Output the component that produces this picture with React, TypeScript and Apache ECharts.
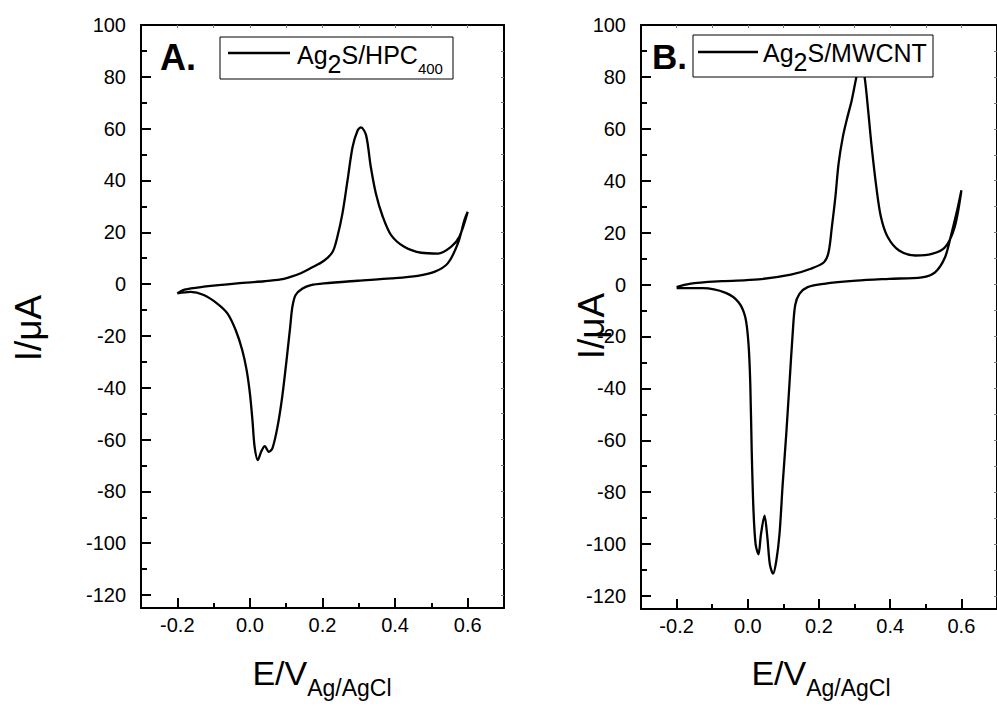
import React, { useEffect, useRef } from "react";
import * as echarts from "echarts";

const FONT = '"Liberation Sans", Arial, Helvetica, sans-serif';

// Axis ticks / labels
const xTickLabels = [-0.2, 0.0, 0.2, 0.4, 0.6];
const xMinorTicks = [-0.1, 0.1, 0.3, 0.5];
const xTopTicks = [-0.2, -0.1, 0.0, 0.1, 0.2, 0.3, 0.4, 0.5, 0.6];
const yTickLabels = [-120, -100, -80, -60, -40, -20, 0, 20, 40, 60, 80, 100];
const yMinorTicks = [-110, -90, -70, -50, -30, -10, 10, 30, 50, 70, 90];
const yRightTicks = [-120, -110, -100, -90, -80, -70, -60, -50, -40, -30, -20, -10, 0, 10, 20, 30, 40, 50, 60, 70, 80, 90];

// Panel A: Ag2S/HPC400 (E in V, I in µA)
const hpcForward = [
  [-0.2, -3.6], [-0.18, -2.1], [-0.127, -1.0], [-0.035, 0.3], [0.04, 1.1], [0.085, 1.8],
  [0.112, 2.8], [0.14, 4.2], [0.168, 6.2], [0.204, 9.0], [0.228, 12.5], [0.241, 18.3],
  [0.255, 27.3], [0.269, 40.1], [0.283, 53.0], [0.297, 59.4], [0.306, 60.5], [0.32, 57.5],
  [0.333, 45.3], [0.347, 35.0], [0.366, 26.0], [0.389, 18.9], [0.425, 14.4], [0.472, 12.1],
  [0.518, 11.8], [0.554, 14.4], [0.577, 18.3], [0.6, 27.9],
];
const hpcReverse = [
  [0.591, 24.7], [0.573, 15.7], [0.545, 8.0], [0.508, 4.7], [0.462, 3.2], [0.389, 2.2],
  [0.297, 1.3], [0.204, 0.3], [0.168, -0.4], [0.145, -1.7], [0.126, -4.2], [0.117, -8.8],
  [0.111, -16.5], [0.101, -29.3], [0.089, -43.5], [0.076, -55.1], [0.062, -63.4],
  [0.052, -64.7], [0.041, -62.5], [0.031, -64.7], [0.022, -67.9], [0.013, -62.8],
  [0.007, -52.5], [0.0, -42.2], [-0.009, -33.2], [-0.021, -25.5], [-0.039, -17.8],
  [-0.062, -11.3], [-0.09, -7.5], [-0.127, -4.2], [-0.164, -3.0], [-0.2, -3.6],
];

// Panel B: Ag2S/MWCNT
const mwcntForward = [
  [-0.2, -1.0], [-0.164, 0.3], [-0.072, 1.3], [0.03, 2.0], [0.121, 3.8], [0.177, 6.1],
  [0.214, 8.6], [0.227, 12.5], [0.236, 22], [0.246, 33.7], [0.255, 46.6], [0.267, 56.9],
  [0.28, 64.6], [0.292, 71.0], [0.305, 80.0], [0.316, 87], [0.328, 80], [0.338, 67.2],
  [0.347, 54.3], [0.361, 37.6], [0.374, 26.0], [0.393, 18.3], [0.425, 13.1], [0.471, 11.2],
  [0.517, 11.8], [0.554, 14.4], [0.581, 22.1], [0.6, 36.3],
];
const mwcntReverse = [
  [0.59, 29.8], [0.572, 19.6], [0.554, 10.5], [0.526, 4.7], [0.489, 2.8], [0.397, 2.2],
  [0.305, 1.5], [0.214, 0.3], [0.168, -1.0], [0.145, -3.6], [0.133, -8], [0.126, -19.0],
  [0.117, -38.3], [0.108, -57.6], [0.098, -76.9], [0.089, -96.2], [0.08, -106.5],
  [0.071, -111.4], [0.062, -107.8], [0.055, -97.5], [0.047, -89.0], [0.037, -96.2],
  [0.03, -103.9], [0.022, -100.1], [0.016, -87.2], [0.011, -64.1], [0.007, -38.3],
  [0.002, -22.9], [-0.007, -12.6], [-0.026, -6.8], [-0.062, -3.2], [-0.127, -1.4], [-0.2, -1.4],
];

const black = "#000";

function xAxesFor(gridIndex: number) {
  const base = {
    type: "value" as const,
    gridIndex,
    min: -0.3,
    max: 0.7,
    splitLine: { show: false },
  };
  return [
    {
      ...base,
      position: "bottom",
      axisLine: { show: true, onZero: false, lineStyle: { color: black, width: 2 } },
      axisTick: { show: true, inside: true, length: 10, lineStyle: { color: black, width: 2 }, customValues: xTickLabels },
      axisLabel: {
        show: true, customValues: xTickLabels, margin: 7, color: black, fontSize: 20, fontFamily: FONT,
        formatter: (v: number) => v.toFixed(1),
      },
    },
    {
      ...base,
      position: "bottom",
      axisLine: { show: false, onZero: false },
      axisTick: { show: true, inside: true, length: 5, lineStyle: { color: black, width: 2 }, customValues: xMinorTicks },
      axisLabel: { show: false },
    },
    {
      ...base,
      position: "top",
      axisLine: { show: true, onZero: false, lineStyle: { color: black, width: 2 } },
      axisTick: { show: true, inside: true, length: 3, lineStyle: { color: "#777", width: 1 }, customValues: xTopTicks },
      axisLabel: { show: false },
    },
  ];
}

function yAxesFor(gridIndex: number) {
  const base = {
    type: "value" as const,
    gridIndex,
    min: -125,
    max: 100,
    splitLine: { show: false },
  };
  return [
    {
      ...base,
      position: "left",
      axisLine: { show: true, onZero: false, lineStyle: { color: black, width: 2 } },
      axisTick: { show: true, inside: true, length: 10, lineStyle: { color: black, width: 2 }, customValues: yTickLabels },
      axisLabel: { show: true, customValues: yTickLabels, margin: 15, color: black, fontSize: 20, fontFamily: FONT },
    },
    {
      ...base,
      position: "left",
      axisLine: { show: false, onZero: false },
      axisTick: { show: true, inside: true, length: 6, lineStyle: { color: black, width: 2 }, customValues: yMinorTicks },
      axisLabel: { show: false },
    },
    {
      ...base,
      position: "right",
      axisLine: { show: true, onZero: false, lineStyle: { color: black, width: 2 } },
      axisTick: { show: true, inside: true, length: 3, lineStyle: { color: "#777", width: 1 }, customValues: yRightTicks },
      axisLabel: { show: false },
    },
  ];
}

function txt(x: number, y: number, text: string, extra: any, z = 60) {
  return {
    type: "text",
    x,
    y,
    z,
    style: {
      text,
      fill: black,
      fontFamily: FONT,
      ...extra,
    },
  };
}

function legendGraphics(box: { x: number; y: number; w: number; h: number }, lineX1: number, lineX2: number, lineY: number, textX: number, textY: number, formatted: string) {
  return [
    { type: "rect", z: 50, shape: { x: box.x, y: box.y, width: box.w, height: box.h }, style: { fill: "#fff", stroke: black, lineWidth: 1 } },
    { type: "line", z: 55, shape: { x1: lineX1, y1: lineY, x2: lineX2, y2: lineY }, style: { stroke: black, lineWidth: 2.3 } },
    txt(textX, textY, formatted, {
      align: "left", textAlign: "left", verticalAlign: "top", textVerticalAlign: "top",
      rich: {
        a: { fontSize: 25, fontFamily: FONT, fill: black, verticalAlign: "top" },
        s: { fontSize: 25, fontFamily: FONT, fill: black, verticalAlign: "top", padding: [9, 0, 0, 0] },
        t: { fontSize: 15, fontFamily: FONT, fill: black, verticalAlign: "top", padding: [18, 0, 0, 0] },
      },
    }),
  ];
}

function xTitle(cx: number) {
  return txt(cx, 656, "{e|E/V}{s|Ag/AgCl}", {
    align: "center", textAlign: "center", verticalAlign: "top", textVerticalAlign: "top",
    rich: {
      e: { fontSize: 34, fontFamily: FONT, fill: black, verticalAlign: "top" },
      s: { fontSize: 23, fontFamily: FONT, fill: black, verticalAlign: "top", padding: [20, 0, 0, 0] },
    },
  });
}

function yTitle(cx: number, cy: number) {
  return {
    type: "text",
    x: cx,
    y: cy,
    rotation: Math.PI / 2,
    z: 60,
    style: {
      text: "I/μA",
      fill: black,
      fontFamily: FONT,
      fontSize: 37,
      align: "center", textAlign: "center", verticalAlign: "middle", textVerticalAlign: "middle",
    },
  };
}

export default function App() {
  const ref = useRef<HTMLDivElement>(null);

  useEffect(() => {
    if (!ref.current) return;
    const chart = echarts.init(ref.current, undefined, { renderer: "svg" });
    const lineStyle = { color: black, width: 2.3 };
    chart.setOption({
      animation: false,
      backgroundColor: "#fff",
      grid: [
        { left: 141, top: 25, width: 363, height: 583, containLabel: false },
        { left: 641, top: 25, width: 362, height: 584, containLabel: false },
      ],
      xAxis: [...xAxesFor(0), ...xAxesFor(1)],
      yAxis: [...yAxesFor(0), ...yAxesFor(1)],
      series: [
        {
          name: "Ag2S/HPC400",
          type: "line",
          xAxisIndex: 0,
          yAxisIndex: 0,
          data: [...hpcForward, ...hpcReverse],
          symbol: "none",
          smooth: 0.3,
          lineStyle,
          z: 2,
        },
        {
          name: "Ag2S/MWCNT",
          type: "line",
          xAxisIndex: 3,
          yAxisIndex: 3,
          data: [...mwcntForward, ...mwcntReverse],
          symbol: "none",
          smooth: 0.3,
          lineStyle,
          z: 2,
        },
      ],
      graphic: [
        txt(160, 57, "A.", { fontSize: 36, fontWeight: "bold", align: "left", textAlign: "left", verticalAlign: "middle", textVerticalAlign: "middle" }),
        txt(652, 56, "B.", { fontSize: 35, fontWeight: "bold", align: "left", textAlign: "left", verticalAlign: "middle", textVerticalAlign: "middle" }),
        ...legendGraphics({ x: 220, y: 37, w: 233, h: 42 }, 228, 290, 53, 297, 42.5, "{a|Ag}{s|2}{a|S/HPC}{t|400}"),
        ...legendGraphics({ x: 693, y: 35, w: 240, h: 42 }, 698, 758, 52, 763, 40.5, "{a|Ag}{s|2}{a|S/MWCNT}"),
        xTitle(322),
        xTitle(821),
        yTitle(28, 328),
        yTitle(591, 326),
      ],
    });
    return () => chart.dispose();
  }, []);

  return (
    <div
      ref={ref}
      style={{ position: "fixed", left: 0, top: 0, width: 997, height: 707, background: "#fff" }}
    />
  );
}
